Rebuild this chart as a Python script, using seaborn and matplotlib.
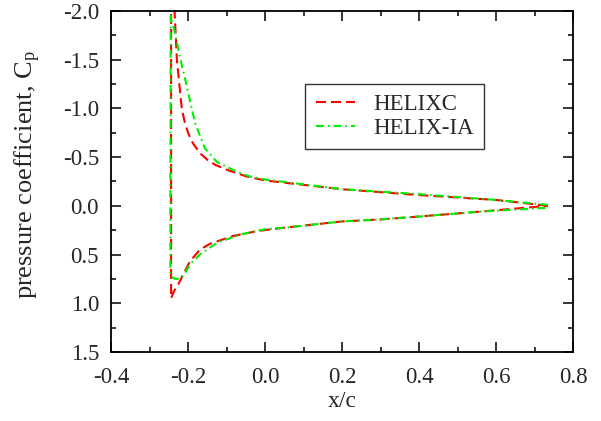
import numpy as np
import pandas as pd
import seaborn as sns
import matplotlib
matplotlib.use("Agg")
import matplotlib.pyplot as plt
from matplotlib.ticker import MultipleLocator, FormatStrFormatter

# HELIXC: upper surface from trailing edge to leading edge, then lower surface back
helixc_x = [0.735, 0.6, 0.4, 0.2, 0.0, -0.048, -0.10, -0.13, -0.15, -0.17, -0.188, -0.20,
            -0.209, -0.217, -0.23, -0.236, -0.242, -0.245, -0.245, -0.245,
            -0.238, -0.227, -0.214, -0.196, -0.17, -0.144, -0.084, -0.022, 0.037,
            0.2, 0.298, 0.4, 0.557, 0.735]
helixc_cp = [0.0, -0.06, -0.11, -0.17, -0.26, -0.30, -0.37, -0.42, -0.47, -0.54, -0.64, -0.74,
             -0.85, -0.99, -1.5, -2.0, -2.6, -2.3, 0.0, 0.95,
             0.88, 0.81, 0.71, 0.57, 0.45, 0.39, 0.31, 0.26, 0.23,
             0.16, 0.14, 0.11, 0.06, 0.0]

# HELIX-IA
helixia_x = [0.735, 0.6, 0.4, 0.2, 0.0, -0.04, -0.074, -0.126, -0.157, -0.181, -0.191,
             -0.209, -0.222, -0.235, -0.243, -0.246, -0.247, -0.247,
             -0.235, -0.222, -0.21, -0.196, -0.17, -0.141, -0.12, -0.06, 0.0, 0.037,
             0.2, 0.298, 0.4, 0.557, 0.735]
helixia_cp = [-0.01, -0.06, -0.12, -0.17, -0.27, -0.30, -0.35, -0.45, -0.59, -0.83, -0.99,
              -1.31, -1.52, -1.78, -1.89, -1.95, 0.0, 0.72,
              0.75, 0.75, 0.70, 0.60, 0.50, 0.42, 0.37, 0.29, 0.24, 0.23,
              0.16, 0.14, 0.11, 0.06, 0.02]

sns.set_style("ticks")
plt.rcParams['font.family'] = ['Liberation Serif', 'DejaVu Serif']
plt.rcParams['mathtext.fontset'] = 'custom'
plt.rcParams['mathtext.rm'] = 'Liberation Serif'
plt.rcParams['mathtext.it'] = 'Liberation Serif:italic'

fig, ax = plt.subplots(figsize=(6.01, 4.21), dpi=100)
fig.subplots_adjust(left=0.1855, right=0.9534, bottom=0.164, top=0.974)

sns.lineplot(x=helixc_x, y=helixc_cp, sort=False, estimator=None, ax=ax,
             color='#ff0000', linewidth=1.5, linestyle=(0, (4.8, 2.4)), label='HELIXC')
sns.lineplot(x=helixia_x, y=helixia_cp, sort=False, estimator=None, ax=ax,
             color='#00ee00', linewidth=1.5, linestyle=(0, (3.8, 1.9, 0.8, 1.9)),
             label='HELIX-IA')

ax.set_xlim(-0.4, 0.8)
ax.set_ylim(1.5, -2.0)
ax.xaxis.set_major_locator(MultipleLocator(0.2))
ax.xaxis.set_minor_locator(MultipleLocator(0.1))
ax.yaxis.set_major_locator(MultipleLocator(0.5))
ax.yaxis.set_minor_locator(MultipleLocator(0.25))
ax.xaxis.set_major_formatter(FormatStrFormatter('%.1f'))
ax.yaxis.set_major_formatter(FormatStrFormatter('%.1f'))
ax.tick_params(which='both', direction='in', top=True, right=True, labelsize=16.5,
               width=1.1, color='black')
ax.tick_params(which='major', length=7)
ax.tick_params(which='minor', length=3.5)
ax.tick_params(axis='x', pad=11)
ax.tick_params(axis='y', pad=9)
for s in ax.spines.values():
    s.set_linewidth(1.3)
    s.set_color('black')

ax.set_xlabel('x/c', fontsize=17, labelpad=2)
ax.set_ylabel('pressure coefficient, C$_\\mathrm{p}$', fontsize=19)
ax.yaxis.set_label_coords(-0.148, 0.52)

leg = ax.legend(loc='upper right', bbox_to_anchor=(0.807, 0.786), fontsize=16.5,
                frameon=True, fancybox=False, handlelength=1.7, borderpad=0.45,
                labelspacing=0.1, handletextpad=0.8, borderaxespad=0)
leg.get_frame().set_edgecolor('black')
leg.get_frame().set_linewidth(1.0)

fig.savefig('out.png', dpi=100)
